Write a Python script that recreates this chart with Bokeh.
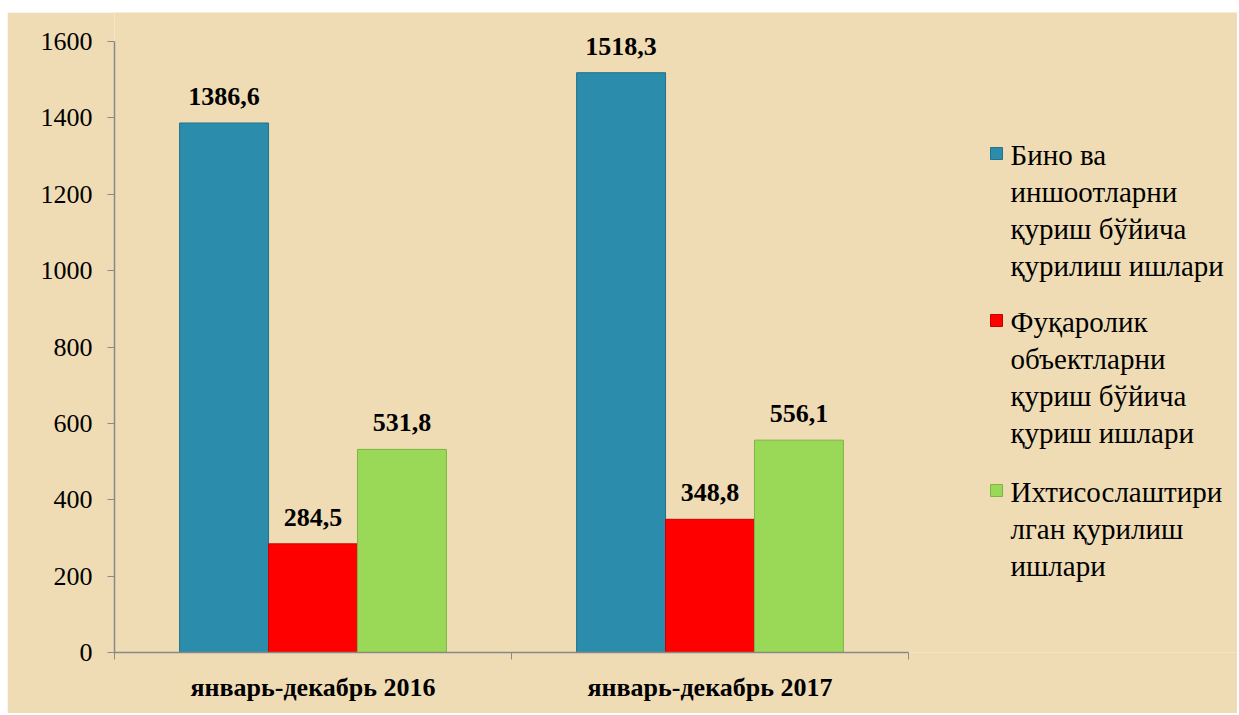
from bokeh.plotting import figure
from bokeh.models import Range1d, FixedTicker, ColumnDataSource, LabelSet, Label
from bokeh.embed import file_html
from bokeh.resources import INLINE

categories = ["январь-декабрь 2016", "январь-декабрь 2017"]
series_names = [
    "Бино ва\nиншоотларни\nқуриш бўйича\nқурилиш ишлари",
    "Фуқаролик\nобъектларни\nқуриш бўйича\nқуриш ишлари",
    "Ихтисослаштири\nлган қурилиш\nишлари",
]
bino = [1386.6, 1518.3]
fuqarolik = [284.5, 348.8]
ixtisos = [531.8, 556.1]
y_ticks = [0, 200, 400, 600, 800, 1000, 1200, 1400, 1600]

colors = ["#2b8cab", "#ff0000", "#9ad957"]
edges = ["#23718a", "#c80000", "#7db543"]
bg = "#efdcb4"
FONT = "Liberation Serif"

W, H = 1230, 701
BL, BB = 107, 61
frame_w = W - BL
frame_h = H - BB
px_per_x = 397.0
x_end = frame_w / px_per_x
y_max = 1600
axis_px = 611.0                 # pixel height of the 0..1600 span
px_per_y = axis_px / y_max
y_end = frame_h / px_per_y      # headroom above 1600 for the value labels

p = figure(width=W, height=H, output_backend="svg", toolbar_location=None,
           x_range=Range1d(0, x_end), y_range=Range1d(0, y_end),
           min_border_left=BL, min_border_top=0, min_border_bottom=BB, min_border_right=0)
p.margin = (12, 0, 0, 7)
p.background_fill_color = bg
p.border_fill_color = bg
p.outline_line_color = None
p.grid.visible = False

bw = 0.224
offsets = [-bw, 0.0, bw]
series = [bino, fuqarolik, ixtisos]
for vals, off, c, ec in zip(series, offsets, colors, edges):
    xs = [i + 0.5 + off for i in range(len(categories))]
    labels = [f"{v:.1f}".replace(".", ",") for v in vals]
    src = ColumnDataSource(dict(x=xs, top=vals, lab=labels))
    p.vbar(x="x", top="top", bottom=0, width=bw, source=src,
           fill_color=c, line_color=ec, line_width=1)
    ls = LabelSet(x="x", y="top", text="lab", source=src, text_align="center",
                  text_baseline="bottom", y_offset=18, text_font=FONT,
                  text_font_size="26px", text_font_style="bold", text_color="black")
    p.add_layout(ls)

# x axis
xa = p.xaxis[0]
xa.ticker = FixedTicker(ticks=[i + 0.5 for i in range(len(categories))],
                        minor_ticks=list(range(len(categories) + 1)))
xa.major_label_overrides = {i + 0.5: c for i, c in enumerate(categories)}
xa.bounds = (0, len(categories))
xa.major_tick_out = 0
xa.major_tick_in = 0
xa.minor_tick_out = 7
xa.minor_tick_in = 0
xa.minor_tick_line_color = "#888888"
xa.axis_line_color = "#888888"
xa.axis_line_width = 1.5
xa.major_label_text_font = FONT
xa.major_label_text_font_size = "26px"
xa.major_label_text_font_style = "bold"
xa.major_label_text_color = "black"
xa.major_label_standoff = 13

ya = p.yaxis[0]
ya.ticker = FixedTicker(ticks=y_ticks)
ya.bounds = (0, y_max)
ya.minor_tick_line_color = None
ya.major_tick_out = 7
ya.major_tick_in = 0
ya.major_tick_line_color = "#888888"
ya.axis_line_color = "#888888"
ya.axis_line_width = 1.5
ya.major_label_text_font = FONT
ya.major_label_text_font_size = "26px"
ya.major_label_text_color = "black"
ya.major_label_standoff = 15

# legend (manual, to keep the marker on the first line of each wrapped label)
leg_sq_px = 882.0          # marker centre, px right of the y axis
leg_text_px = 896.0        # text left edge
leg_first_line_px = [114.0, 281.0, 451.0]   # first-line centre, px below the 1600 line
line_px = 33.5
for name, c, ec, top_px in zip(series_names, colors, edges, leg_first_line_px):
    yc = y_max - (top_px - 2) / px_per_y
    p.scatter(x=[leg_sq_px / px_per_x], y=[yc], marker="square", size=12,
              fill_color=c, line_color=ec)
    p.add_layout(Label(x=leg_text_px / px_per_x, y=y_max - (top_px - line_px / 2) / px_per_y,
                       text=name, text_baseline="top", text_align="left",
                       text_font=FONT, text_font_size="29px", text_line_height=1.155,
                       text_color="black"))

open("out.html", "w").write(file_html(p, INLINE))
